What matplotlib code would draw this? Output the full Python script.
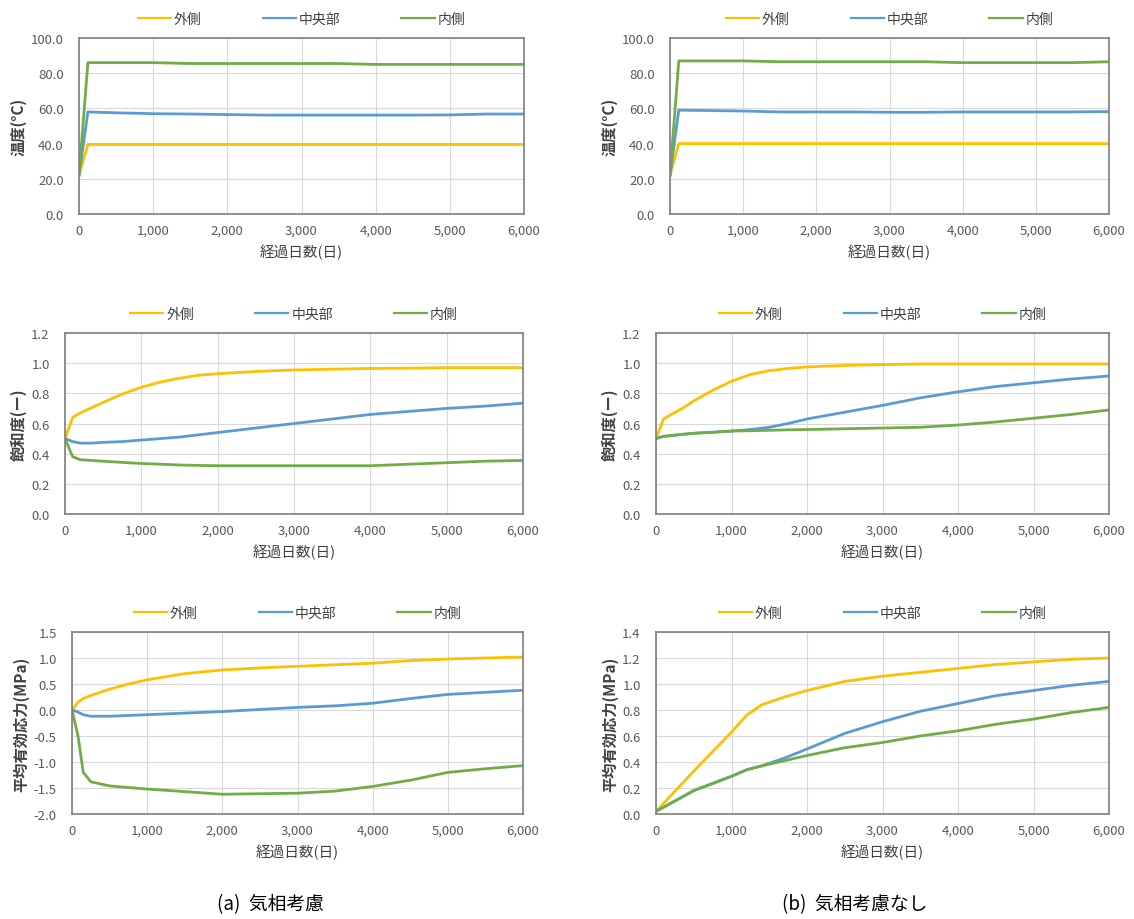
import matplotlib
matplotlib.use("Agg")
from matplotlib import pyplot as plt
from matplotlib.ticker import FuncFormatter, MultipleLocator

plt.rcParams['font.family'] = ['Noto Sans CJK JP', 'DejaVu Sans']

# series names and colours
names = ['外側', '中央部', '内側']
colours = ['#FFC000', '#5B9BD5', '#70AD47']

# ---- (a) 気相考慮 ----
temp_a_x = [0, 120, 500, 1000, 1500, 2000, 2500, 3000, 3500, 4000, 4500, 5000, 5500, 6000]
temp_a_out = [22, 39.5, 39.5, 39.5, 39.5, 39.5, 39.5, 39.5, 39.5, 39.5, 39.5, 39.5, 39.5, 39.5]
temp_a_mid = [22, 58, 57.5, 57, 56.8, 56.5, 56.2, 56.2, 56.2, 56.2, 56.2, 56.3, 56.8, 56.8]
temp_a_in = [22, 86, 86, 86, 85.5, 85.5, 85.5, 85.5, 85.5, 85, 85, 85, 85, 85]

sat_a_x = [0, 100, 200, 350, 500, 750, 1000, 1250, 1500, 1750, 2000, 2500, 3000, 3500, 4000, 4500, 5000, 5500, 6000]
sat_a_out = [0.5, 0.64, 0.67, 0.705, 0.74, 0.795, 0.84, 0.875, 0.90, 0.92, 0.93, 0.945, 0.955, 0.96, 0.965, 0.967, 0.97, 0.97, 0.97]
sat_a_mid = [0.5, 0.48, 0.47, 0.47, 0.475, 0.48, 0.49, 0.50, 0.51, 0.525, 0.54, 0.57, 0.60, 0.63, 0.66, 0.68, 0.70, 0.715, 0.735]
sat_a_in = [0.5, 0.38, 0.36, 0.355, 0.35, 0.342, 0.335, 0.33, 0.325, 0.322, 0.32, 0.32, 0.32, 0.32, 0.32, 0.33, 0.34, 0.35, 0.355]

str_a_x = [0, 80, 150, 250, 500, 750, 1000, 1500, 2000, 2500, 3000, 3500, 4000, 4500, 5000, 5500, 6000]
str_a_out = [0.0, 0.15, 0.22, 0.28, 0.40, 0.50, 0.58, 0.70, 0.77, 0.81, 0.84, 0.87, 0.90, 0.95, 0.98, 1.00, 1.02]
str_a_mid = [0.0, -0.04, -0.09, -0.12, -0.12, -0.105, -0.09, -0.06, -0.03, 0.01, 0.05, 0.08, 0.13, 0.22, 0.30, 0.34, 0.38]
str_a_in = [0.0, -0.5, -1.2, -1.38, -1.46, -1.49, -1.52, -1.57, -1.62, -1.61, -1.60, -1.56, -1.47, -1.35, -1.20, -1.13, -1.07]

# ---- (b) 気相考慮なし ----
temp_b_x = [0, 120, 500, 1000, 1500, 2000, 2500, 3000, 3500, 4000, 4500, 5000, 5500, 6000]
temp_b_out = [22, 40, 40, 40, 40, 40, 40, 40, 40, 40, 40, 40, 40, 40]
temp_b_mid = [22, 59, 58.8, 58.5, 58, 58, 58, 57.8, 57.8, 58, 58, 58, 58, 58.2]
temp_b_in = [22, 87, 87, 87, 86.5, 86.5, 86.5, 86.5, 86.5, 86, 86, 86, 86, 86.5]

sat_b_x = [0, 100, 200, 350, 500, 750, 1000, 1250, 1500, 1750, 2000, 2500, 3000, 3500, 4000, 4500, 5000, 5500, 6000]
sat_b_out = [0.5, 0.63, 0.66, 0.70, 0.75, 0.82, 0.88, 0.925, 0.95, 0.965, 0.975, 0.985, 0.99, 0.995, 0.995, 0.995, 0.995, 0.995, 0.995]
sat_b_mid = [0.5, 0.515, 0.52, 0.528, 0.535, 0.542, 0.55, 0.56, 0.575, 0.60, 0.63, 0.675, 0.72, 0.77, 0.81, 0.845, 0.87, 0.895, 0.915]
sat_b_in = [0.5, 0.515, 0.52, 0.528, 0.535, 0.542, 0.55, 0.552, 0.555, 0.558, 0.56, 0.565, 0.57, 0.575, 0.59, 0.61, 0.635, 0.66, 0.69]

str_b_x = [0, 500, 1000, 1200, 1400, 1700, 2000, 2500, 3000, 3500, 4000, 4500, 5000, 5500, 6000]
str_b_out = [0.02, 0.33, 0.63, 0.76, 0.84, 0.90, 0.95, 1.02, 1.06, 1.09, 1.12, 1.15, 1.17, 1.19, 1.20]
str_b_mid = [0.02, 0.18, 0.29, 0.34, 0.37, 0.43, 0.50, 0.62, 0.71, 0.79, 0.85, 0.91, 0.95, 0.99, 1.02]
str_b_in = [0.02, 0.18, 0.29, 0.34, 0.37, 0.41, 0.45, 0.51, 0.55, 0.60, 0.64, 0.69, 0.73, 0.78, 0.82]

ylabels = ['温度(°C)', '飽和度(ー)', '平均有効応力(MPa)']
xlabel = '経過日数(日)'
captions = ['(a)  気相考慮', '(b)  気相考慮なし']

panels = [
    # (x, series, ylim, ystep, position in px: left, top, right, bottom)
    (temp_a_x, [temp_a_out, temp_a_mid, temp_a_in], (0, 100), 20, (79, 39, 524, 215), 0),
    (temp_b_x, [temp_b_out, temp_b_mid, temp_b_in], (0, 100), 20, (670, 39, 1109, 215), 0),
    (sat_a_x, [sat_a_out, sat_a_mid, sat_a_in], (0, 1.2), 0.2, (65, 334, 523, 515), 1),
    (sat_b_x, [sat_b_out, sat_b_mid, sat_b_in], (0, 1.2), 0.2, (656, 334, 1109, 515), 1),
    (str_a_x, [str_a_out, str_a_mid, str_a_in], (-2.0, 1.5), 0.5, (72, 633, 523, 815), 2),
    (str_b_x, [str_b_out, str_b_mid, str_b_in], (0, 1.4), 0.2, (656, 633, 1109, 815), 2),
]

W, H = 1134, 920
fig = plt.figure(figsize=(W / 100, H / 100), dpi=100)

for x, series, ylim, ystep, (l, t, r, b), row in panels:
    ax = fig.add_axes([l / W, 1 - b / H, (r - l) / W, (b - t) / H])
    for ys, name, col in zip(series, names, colours):
        ax.plot(x, ys, color=col, lw=2.0, label=name)
    ax.set_xlim(0, 6000)
    ax.set_ylim(*ylim)
    ax.xaxis.set_major_locator(MultipleLocator(1000))
    ax.yaxis.set_major_locator(MultipleLocator(ystep))
    ax.xaxis.set_major_formatter(FuncFormatter(lambda v, p: f'{int(v):,}'))
    ax.yaxis.set_major_formatter(FuncFormatter(lambda v, p: f'{v:.1f}'))
    ax.grid(True, color='#D9D9D9', lw=0.8)
    ax.set_axisbelow(True)
    for s in ax.spines.values():
        s.set_color('#7F7F7F')
        s.set_linewidth(1.2)
    ax.tick_params(length=0, labelsize=9.5, labelcolor='#595959')
    ax.tick_params(axis='x', pad=7)
    ax.tick_params(axis='y', pad=11)
    ax.set_ylabel(ylabels[row], fontsize=11, fontweight='bold', color='#404040', labelpad=3)
    ax.set_xlabel(xlabel, fontsize=10.5, color='#404040', labelpad=5)
    leg = ax.legend(loc='lower center', bbox_to_anchor=(0.5, 1.0), ncol=3, frameon=False,
                    fontsize=10, handlelength=2.4, handletextpad=0.2, columnspacing=4.4,
                    labelcolor='#404040', borderaxespad=0.5)
    for h in leg.get_lines():
        h.set_linewidth(1.6)

fig.text(270 / W, 1 - 905 / H, captions[0], fontsize=13.5, ha='center', va='center')
fig.text(855 / W, 1 - 905 / H, captions[1], fontsize=13.5, ha='center', va='center')

fig.savefig('out.png', dpi=100, facecolor='white')
